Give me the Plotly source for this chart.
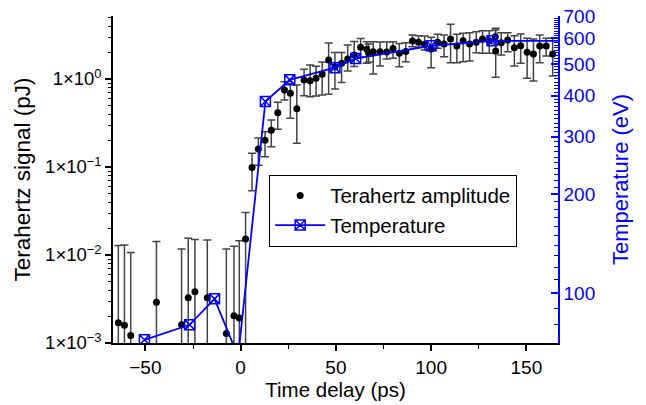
import plotly.graph_objects as go

# Terahertz amplitude data (time delay in ps, signal in pJ, error-bar bounds)
thz_x = [-64.2, -61.0, -57.7, -44.2, -31.0, -27.5, -24.0, -17.5, -7.5, -3.5, -0.7,
         2.6, 6.0, 9.3, 12.8, 16.1, 19.5, 23.0, 26.1, 29.5, 33.3, 36.5, 39.6, 42.8,
         46.2, 49.5, 53.0, 56.2, 59.6, 63.0, 66.2, 67.2, 69.6, 73.2, 76.7, 80.0,
         83.3, 86.7, 90.2, 93.4, 96.6, 100.0, 103.4, 106.8, 110.2, 113.5, 116.8,
         120.2, 123.7, 127.0, 130.5, 133.7, 133.9, 136.8, 140.2, 143.7, 147.0,
         150.4, 153.7, 157.0, 160.4, 163.8]
thz_y = [0.0017, 0.00159, 0.00122, 0.0029, 0.00161, 0.00327, 0.00383, 0.00327, 0.00128,
         0.00204, 0.00192, 0.0152, 0.099, 0.160, 0.201, 0.261, 0.414, 0.75, 0.687, 0.46,
         0.974, 0.956, 1.02, 1.13, 1.64, 1.38, 1.51, 1.69, 1.87, 2.29, 2.18, 1.96, 2.04,
         2.04, 2.03, 2.22, 1.96, 2.05, 2.70, 2.61, 2.48, 2.19, 2.61, 2.50, 2.85, 2.37,
         2.72, 2.50, 2.61, 2.85, 2.72, 3.02, 2.08, 2.59, 2.77, 2.27, 2.39, 2.01, 1.92,
         2.37, 2.37, 1.92]
thz_hi = [0.0128, 0.0130, 0.0107, 0.0142, 0.0117, 0.0155, 0.0150, 0.0148, 0.0117,
          0.0126, 0.0145, 0.0305, 0.143, 0.213, 0.252, 0.342, 0.543, 0.93, 0.89, 0.855,
          1.29, 1.44, 1.40, 1.56, 2.56, 2.0, 2.0, 2.43, 2.67, 2.88, 2.65, 2.5, 2.65,
          2.63, 2.63, 2.65, 2.54, 2.58, 3.16, 3.10, 3.08, 2.98, 3.22, 3.16, 4.18, 3.22,
          3.31, 3.36, 3.45, 3.54, 3.54, 3.6, 3.77, 3.36, 3.36, 3.10, 3.25, 2.90, 2.85,
          3.16, 2.90, 2.90]
thz_lo = [0.0002, 0.0002, 0.0002, 0.0002, 0.0002, 0.0002, 0.0002, 0.0002, 0.0002,
          0.0002, 0.0002, 0.0002, 0.0538, 0.105, 0.131, 0.170, 0.268, 0.577, 0.357, 0.186,
          0.646, 0.63, 0.64, 0.66, 0.67, 0.77, 0.91, 1.23, 1.39, 1.78, 1.51, 1.56, 1.14,
          1.41, 1.69, 1.72, 1.38, 1.57, 2.33, 2.29, 2.14, 1.34, 2.23, 1.79, 1.53, 1.53,
          1.57, 1.60, 1.99, 1.96, 1.96, 2.5, 1.05, 1.87, 2.04, 1.41, 1.51, 1.02, 0.95,
          1.53, 1.83, 1.08]

# Temperature data (time delay in ps, temperature in eV)
temp_x = [-50.5, -26.8, -13.7, -1.3, 13.0, 25.8, 49.5, 60.4, 100.0, 132.0, 175.0]
temp_y = [72, 80, 96, 64, 384, 447, 487, 519, 568, 588, 588]

left_ticks = [1e-3, 1e-2, 1e-1, 1e0]
left_labels = ["1×10<sup>−3</sup>", "1×10<sup>−2</sup>", "1×10<sup>−1</sup>", "1×10<sup>0</sup>"]
right_ticks = [100, 200, 300, 400, 500, 600, 700]
x_ticks = [-50, 0, 50, 100, 150]

left_minor = [k * 10 ** d for d in range(-3, 1) for k in range(2, 10)]
right_minor = [v for v in range(70, 701, 10) if v not in right_ticks]

BLUE = "#0000FF"
FONT = "Liberation Sans, Arial, sans-serif"

err_plus = [h - y for h, y in zip(thz_hi, thz_y)]
err_minus = [y - l for y, l in zip(thz_y, thz_lo)]

fig = go.Figure()
fig.add_trace(go.Scatter(
    x=thz_x, y=thz_y, mode="markers", name="Terahertz amplitude",
    marker=dict(color="black", size=7),
    error_y=dict(type="data", array=err_plus, arrayminus=err_minus,
                 color="#444444", thickness=1.5, width=4),
))
fig.add_trace(go.Scatter(
    x=temp_x, y=temp_y, mode="lines+markers", name="Temperature", yaxis="y2",
    line=dict(color=BLUE, width=1.8),
    marker=dict(symbol="square-x-open", size=10, color=BLUE, line=dict(width=1.5, color=BLUE)),
))

fig.update_layout(
    width=646, height=405,
    margin=dict(l=113, r=88, t=16, b=62),
    paper_bgcolor="white", plot_bgcolor="white",
    font=dict(family=FONT, size=19, color="black"),
    showlegend=True,
    legend=dict(x=0.351, y=0.515, xanchor="left", yanchor="top",
                bordercolor="black", borderwidth=1, bgcolor="white",
                font=dict(size=20.5), itemwidth=50, tracegroupgap=0),
    xaxis=dict(
        range=[-67.0, 166.6], showgrid=False, zeroline=False, automargin=False,
        showline=True, linecolor="black", linewidth=1.5,
        tickmode="array", tickvals=x_ticks, ticks="outside", ticklen=6, tickwidth=1.5,
        tickcolor="black", tickfont=dict(size=19),
        minor=dict(tickmode="linear", tick0=-25, dtick=50, ticks="outside", ticklen=4,
                   tickwidth=1.2, tickcolor="black"),
        title=dict(text="Time delay (ps)", font=dict(size=20.5), standoff=5),
    ),
    yaxis=dict(
        type="log", range=[-3, 0.716], showgrid=False, zeroline=False, automargin=False,
        showline=True, linecolor="black", linewidth=1.5,
        tickmode="array", tickvals=left_ticks, ticktext=left_labels,
        ticks="outside", ticklen=6, tickwidth=1.5, tickcolor="black",
        tickfont=dict(size=18.5),
        minor=dict(tickmode="array", tickvals=left_minor, ticks="outside", ticklen=3.5,
                   tickwidth=1, tickcolor="black"),
        title=dict(text="Terahertz signal (pJ)", font=dict(size=22.5), standoff=8),
    ),
    yaxis2=dict(
        type="log", range=[1.8476, 2.8451], overlaying="y", side="right",
        showgrid=False, zeroline=False, automargin=False,
        showline=True, linecolor=BLUE, linewidth=1.5,
        tickmode="array", tickvals=right_ticks, ticks="inside", ticklen=7,
        tickwidth=1.5, tickcolor=BLUE, tickfont=dict(size=19, color=BLUE),
        minor=dict(tickmode="array", tickvals=right_minor, ticks="inside", ticklen=4,
                   tickwidth=1, tickcolor=BLUE),
        title=dict(text="Temperature (eV)", font=dict(size=22, color=BLUE), standoff=18),
    ),
)

fig.write_html("out.html")
